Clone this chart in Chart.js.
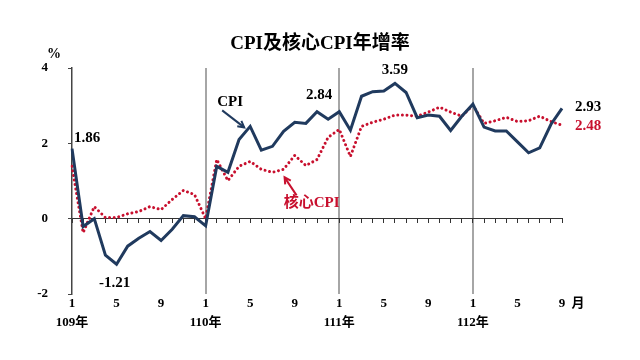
<!DOCTYPE html>
<html>
<head>
<meta charset="utf-8">
<script src="https://cdn.jsdelivr.net/npm/chart.js@4"></script>
<style>
html,body{margin:0;padding:0;background:#fff;}
#wrap{width:640px;height:360px;position:relative;}
</style>
</head>
<body>
<div id="wrap"><canvas id="c" width="640" height="360"></canvas></div>
<script>
// ---- data ----
const months = [1,2,3,4,5,6,7,8,9,10,11,12,
                1,2,3,4,5,6,7,8,9,10,11,12,
                1,2,3,4,5,6,7,8,9,10,11,12,
                1,2,3,4,5,6,7,8,9];
const yearLabels = ['109年','110年','111年','112年'];
const cpi = [1.86,-0.21,0.00,-0.97,-1.21,-0.73,-0.52,-0.34,-0.58,-0.28,0.08,0.05,
             -0.19,1.39,1.23,2.10,2.45,1.82,1.92,2.32,2.56,2.53,2.84,2.64,
             2.84,2.35,3.25,3.37,3.39,3.59,3.35,2.68,2.75,2.72,2.34,2.72,
             3.04,2.43,2.33,2.33,2.04,1.75,1.88,2.50,2.93];
const coreCpi = [1.39,-0.37,0.32,0.03,0.03,0.13,0.19,0.32,0.24,0.51,0.75,0.64,
                 0.00,1.57,1.01,1.39,1.52,1.31,1.23,1.31,1.68,1.41,1.57,2.16,
                 2.37,1.65,2.45,2.56,2.64,2.75,2.75,2.72,2.83,2.96,2.83,2.72,
                 3.01,2.53,2.60,2.69,2.58,2.60,2.72,2.58,2.48];
const yTicks = [4,2,0,-2];
const title = 'CPI及核心CPI年增率';
const unitLabel = '%';
const monthSuffix = '月';
const cpiName = 'CPI';
const coreName = '核心CPI';

const NAVY = '#203a5e';
const RED = '#c8102e';
const SERIF = '"Liberation Serif", "Noto Sans CJK TC", serif';

const labels = months.map((m, i) => i);

function yearOf(i){ return yearLabels[Math.floor(i/12)]; }

const overlay = {
  id: 'overlay',
  afterDraw(chart){
    const ctx = chart.ctx;
    const xs = chart.scales.x2, ys = chart.scales.y;
    const X = i => xs.getPixelForValue(i);
    const Y = v => ys.getPixelForValue(v);
    ctx.save();
    // title
    ctx.fillStyle = '#000';
    ctx.font = 'bold 19px ' + SERIF;
    ctx.textAlign = 'center';
    ctx.textBaseline = 'middle';
    ctx.fillText(title, 320, 44);
    // unit
    ctx.font = 'bold 14px ' + SERIF;
    ctx.fillText(unitLabel, 54, 54);
    // month suffix
    ctx.font = 'bold 13px ' + SERIF;
    ctx.fillText(monthSuffix, X(months.length-1) + 16, chart.chartArea.bottom + 10);

    // value labels
    ctx.font = 'bold 15px ' + SERIF;
    ctx.fillStyle = '#000';
    const lab = (txt, i, v, dx, dy, align) => {
      ctx.textAlign = align || 'center';
      ctx.fillText(txt, X(i) + dx, Y(v) + dy);
    };
    const iMax = cpi.indexOf(Math.max(...cpi));
    const iMin = cpi.indexOf(Math.min(...cpi));
    const last = cpi.length - 1;
    lab(cpi[0].toFixed(2), 0, cpi[0], 15, -10);
    lab(cpi[iMin].toFixed(2), iMin, cpi[iMin], -2, 19);
    lab(cpi[22].toFixed(2), 22, cpi[22], 2, -17);
    lab(cpi[iMax].toFixed(2), iMax, cpi[iMax], 0, -13);
    lab(cpi[last].toFixed(2), last, cpi[last], 13, -1, 'left');
    ctx.fillStyle = RED;
    lab(coreCpi[last].toFixed(2), last, coreCpi[last], 13, 1, 'left');

    // series names with arrows
    const arrow = (x1,y1,x2,y2,color) => {
      ctx.strokeStyle = color; ctx.fillStyle = color; ctx.lineWidth = 2;
      ctx.beginPath(); ctx.moveTo(x1,y1); ctx.lineTo(x2,y2); ctx.stroke();
      const a = Math.atan2(y2-y1, x2-x1), L = 7;
      ctx.beginPath();
      ctx.moveTo(x2 - L*Math.cos(a-0.5), y2 - L*Math.sin(a-0.5));
      ctx.lineTo(x2, y2);
      ctx.lineTo(x2 - L*Math.cos(a+0.5), y2 - L*Math.sin(a+0.5));
      ctx.stroke();
    };
    ctx.fillStyle = '#000';
    ctx.font = 'bold 15px ' + SERIF;
    ctx.textAlign = 'center';
    const px = X(16), py = Y(cpi[16]);
    ctx.fillText(cpiName, px - 20, py - 24);
    arrow(px - 28, py - 16, px - 6, py + 1, NAVY);
    const qx = X(19), qy = Y(coreCpi[19]);
    ctx.fillStyle = RED;
    ctx.font = 'bold 15px ' + SERIF;
    ctx.fillText(coreName, qx + 28, qy + 34);
    arrow(qx + 13, qy + 26, qx + 1, qy + 8, RED);
    ctx.restore();
  }
};

new Chart(document.getElementById('c'), {
  type: 'line',
  data: {
    labels: labels,
    datasets: [
      { label: cpiName, data: cpi, borderColor: NAVY, borderWidth: 3,
        pointRadius: 0, tension: 0, xAxisID: 'x2', borderJoinStyle: 'miter' },
      { label: coreName, data: coreCpi, borderColor: RED, borderWidth: 3,
        pointRadius: 0, tension: 0, xAxisID: 'x2',
        borderDash: [0.01, 4.6], borderCapStyle: 'round' }
    ]
  },
  options: {
    responsive: false,
    animation: false,
    layout: { padding: { left: 0, right: 78, top: 68, bottom: 0 } },
    plugins: { legend: { display: false }, tooltip: { enabled: false }, title: { display: false } },
    scales: {
      x2: {
        type: 'category', position: 'bottom', offset: false,
        afterFit(s){ s.height = 66; },
        border: { display: false },
        grid: {
          drawTicks: false, drawOnChartArea: true, lineWidth: 2,
          color: c => (c.index > 0 && c.index % 12 === 0) ? '#a6a6a6' : 'rgba(0,0,0,0)'
        },
        ticks: {
          autoSkip: false, maxRotation: 0, padding: 1, color: '#000',
          font: { family: SERIF, weight: 'bold', size: 13, lineHeight: 1.4 },
          callback: (v, i) => {
            const m = months[i];
            if (m === 1) return [String(m), yearOf(i)];
            if (m === 5 || m === 9) return String(m);
            return '';
          }
        }
      },
      x: {
        type: 'category', position: { y: 0 }, offset: false,
        border: { display: true, color: '#333', width: 1 },
        grid: { drawOnChartArea: false, drawTicks: true, tickLength: 4, color: '#333' },
        ticks: { display: false, autoSkip: false }
      },
      y: {
        min: -2, max: 4,
        afterFit(s){ s.width = 72; },
        afterBuildTicks(s){ s.ticks = yTicks.map(v => ({ value: v })); },
        border: { display: true, color: '#444', width: 1.5 },
        grid: { drawOnChartArea: false, drawTicks: true, tickLength: 4, color: '#444' },
        ticks: { padding: 20, color: '#000',
          font: { family: SERIF, weight: 'bold', size: 13 } }
      }
    }
  },
  plugins: [overlay]
});
</script>
</body>
</html>
